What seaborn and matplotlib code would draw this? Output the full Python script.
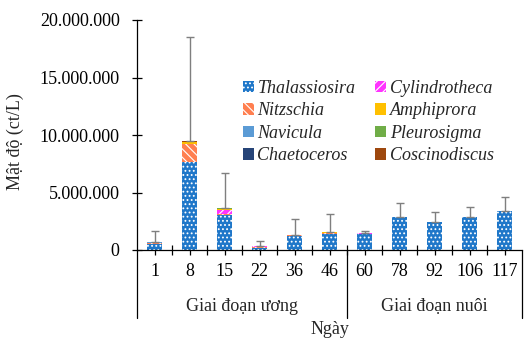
import numpy as np
import pandas as pd
import matplotlib
matplotlib.use("Agg")
import matplotlib.pyplot as plt
from matplotlib.ticker import FuncFormatter, FixedLocator
import seaborn as sns

# ---- data (cells/L) ----
days = ["1", "8", "15", "22", "36", "46", "60", "78", "92", "106", "117"]
thalassiosira = [500000, 7680000, 3040000, 200000, 1220000, 1420000, 1420000, 2860000, 2420000, 2850000, 3360000]
nitzschia     = [150000, 1550000, 80000, 100000, 50000, 30000, 0, 20000, 20000, 20000, 20000]
navicula      = [20000, 0, 0, 0, 0, 0, 10000, 0, 0, 0, 0]
chaetoceros   = [0, 0, 0, 0, 0, 0, 0, 0, 0, 0, 0]
cylindrotheca = [30000, 0, 400000, 50000, 20000, 20000, 20000, 20000, 20000, 30000, 10000]
amphiprora    = [20000, 120000, 80000, 0, 10000, 60000, 0, 0, 0, 0, 0]
pleurosigma   = [0, 80000, 30000, 0, 0, 10000, 0, 0, 0, 0, 0]
coscinodiscus = [0, 20000, 0, 0, 0, 0, 0, 0, 0, 0, 0]
sd_values     = [930000, 9050000, 3040000, 430000, 1370000, 1560000, 200000, 1160000, 870000, 850000, 1250000]
groups = ["Giai đoạn ương", "Giai đoạn nuôi"]
yticks = [0, 5000000, 10000000, 15000000, 20000000]

species = ["Thalassiosira", "Nitzschia", "Navicula", "Chaetoceros",
           "Cylindrotheca", "Amphiprora", "Pleurosigma", "Coscinodiscus"]
values = [thalassiosira, nitzschia, navicula, chaetoceros,
          cylindrotheca, amphiprora, pleurosigma, coscinodiscus]
colors = ["#1F77C9", "#FF7F50", "#5B9BD5", "#264478",
          "#FF33FF", "#FFC000", "#70AD47", "#9E480E"]
hatches = ["....", "\\\\\\\\", None, None, "////", None, None, None]

df = pd.DataFrame({"day": days})
for name, v in zip(species, values):
    df[name] = v

sns.set_style("ticks")
plt.rcParams["font.family"] = ["Liberation Serif", "DejaVu Serif"]
plt.rcParams["hatch.linewidth"] = 0.8

fig = plt.figure(figsize=(5.26, 3.42), dpi=100)
ax = fig.add_axes([137 / 526, 1 - 250 / 342, (522 - 137) / 526, 230 / 342])

bottom = np.zeros(len(days))
for name, col, h in zip(species, colors, hatches):
    sns.barplot(data=df, x="day", y=name, order=days, bottom=bottom.copy(),
                color=col, saturation=1, width=0.43, errorbar=None,
                hatch=h, edgecolor="white" if h else col, linewidth=0,
                label=name, ax=ax)
    bottom += df[name].to_numpy()

xpos = np.arange(len(days))
sd = np.array(sd_values)
ax.errorbar(xpos, bottom, yerr=[np.zeros_like(sd), sd], fmt="none",
            ecolor="#7F7F7F", elinewidth=1, capsize=3, capthick=1, zorder=1)

ax.set_ylim(0, 20000000)
ax.set_xlim(-0.5, len(days) - 0.5)
ax.yaxis.set_major_locator(FixedLocator(yticks))
ax.yaxis.set_major_formatter(FuncFormatter(lambda v, p: f"{int(v):,}".replace(",", ".")))
ax.set_xticks(xpos)
ax.set_xticklabels(days)
ax.xaxis.set_minor_locator(FixedLocator(np.arange(0.5, len(days) - 1, 1.0)))

sns.despine(ax=ax)
for s in ["left", "bottom"]:
    ax.spines[s].set_linewidth(0.9)
    ax.spines[s].set_color("black")
ax.tick_params(axis="both", which="both", direction="inout", length=7, width=0.9,
               color="black", labelsize=13, labelcolor="black")
ax.tick_params(axis="x", which="major", pad=6)
ax.tick_params(axis="y", pad=9)

ax.set_xlabel("")
ax.set_ylabel("Mật độ (ct/L)", fontsize=13)
ax.yaxis.set_label_coords(-0.294, 0.47)

# group separators and labels
trans = ax.get_xaxis_transform()
for xv in [-0.5, 5.5, len(days) - 0.5]:
    ax.plot([xv, xv], [0, -0.296], transform=trans, color="black", lw=0.9, clip_on=False)
ax.text(2.5, -0.245, groups[0], transform=trans, ha="center", va="center", fontsize=13)
ax.text(8.0, -0.245, groups[1], transform=trans, ha="center", va="center", fontsize=13)
ax.text(5.0, -0.365, "Ngày", transform=trans, ha="center", va="baseline", fontsize=13)

handles, labels = ax.get_legend_handles_labels()
leg = fig.legend(handles, labels, ncol=2, loc="upper left",
                 bbox_to_anchor=(243 / 526, 1 - 80 / 342), frameon=False,
                 prop={"family": "Liberation Serif", "style": "italic", "size": 13},
                 borderpad=0, borderaxespad=0,
                 handlelength=0.6, handleheight=0.6, handletextpad=0.2,
                 labelspacing=0.3, columnspacing=1.1)
if ax.get_legend() is not None:
    ax.get_legend().remove()

fig.savefig("out.png", dpi=100)
